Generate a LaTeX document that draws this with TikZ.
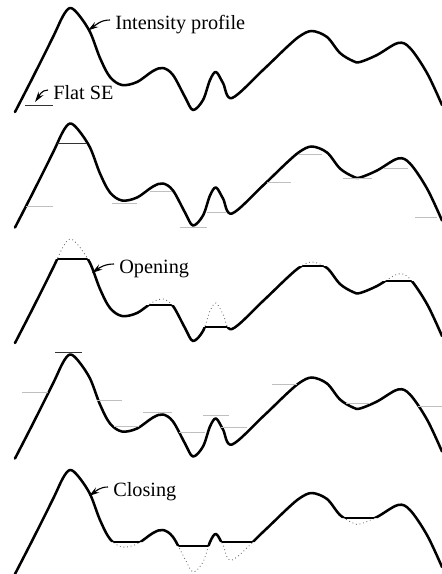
\documentclass[tikz,border=0pt]{standalone}
\usepackage{fontspec}
\setmainfont{Liberation Serif}
\usetikzlibrary{arrows.meta}
\tikzset{
  profile/.style={line width=1.8pt, line join=round, line cap=round},
  original/.style={black!60, line width=0.6pt, dotted},
  semark/.style={gray!50, line width=0.35pt},
  sepeak/.style={black!80, line width=0.5pt},
  pointer/.style={line width=0.8pt, -{Stealth[length=2.6mm, width=1.5mm]}},
  caption/.style={anchor=base west, inner sep=0pt, font=\fontsize{14.4}{17}\selectfont}
}
\newcommand{\profilepath}{plot[smooth, tension=0.55] coordinates {
  (15,112) (33,77) (53,37) (63,16) (70,8) (78,14) (90,32) (100,58) (110,77)
  (122,85) (137,82) (153,71) (163,68) (173,75) (185,97) (193,110) (203,100)
  (210,80) (216,72) (223,83) (232,98) (263,70) (287,47) (300,36) (312,31)
  (327,37) (340,53) (353,61) (360,62) (377,55) (398,43) (410,48) (427,73)
  (442,105)}}

\begin{document}
\begin{tikzpicture}[x=0.025cm, y=-0.025cm]
  \useasboundingbox (0,0) rectangle (442,574);

  % intensity profile and the flat SE
  \draw[profile] \profilepath;
  \draw[sepeak] (25,105) -- (53,105);
  \node[caption] (iplabel) at (115,29) {Intensity profile};
  \node[caption] (fslabel) at (53,99) {Flat SE};
  \coordinate (iptip) at (88,30.5);
  \coordinate (fstip) at (35,102);
  \draw[pointer] ([shift={(-5,-9)}]iplabel.base west) to[out=180, in=35] (iptip);
  \draw[pointer] ([shift={(-5,-9)}]fslabel.base west) to[out=180, in=55] (fstip);

  % SE pushed up from below
  \begin{scope}[shift={(0,115.5)}]
    \draw[profile] \profilepath;
    \draw[sepeak] (57,28) -- (86,28);
    \draw[semark] (26,90.5) -- (53,90.5) (112,87.5) -- (137,87.5)
      (150,75.5) -- (172,75.5) (180,111.5) -- (207,111.5) (207,97) -- (227,97)
      (267,67) -- (291,67) (298,38.5) -- (322,38.5) (343,63) -- (372,63)
      (384,53) -- (408,53) (415,101.5) -- (437,101.5);
  \end{scope}

  % opening
  \begin{scope}[shift={(0,231)}]
    \draw[original] \profilepath;
    \begin{scope}
      \clip (0,130) -- (0,-20) -- (48,-20) -- (48,28) -- (95,28) -- (95,-20)
        -- (140,-20) -- (140,74) -- (180,74) -- (180,-20) -- (198,-20)
        -- (198,96) -- (233,96) -- (233,-20) -- (285,-20) -- (285,35)
        -- (335,35) -- (335,-20) -- (375,-20) -- (375,50) -- (420,50)
        -- (420,-20) -- (442,-20) -- (442,130) -- cycle;
      \draw[profile] \profilepath;
    \end{scope}
    \begin{scope}
      \clip \profilepath -- (442,130) -- (15,130) -- cycle;
      \draw[profile] (48,28) -- (95,28) (140,74) -- (180,74) (198,96) -- (233,96)
        (285,35) -- (335,35) (375,50) -- (420,50);
    \end{scope}
    \node[caption] (oplabel) at (119,42) {Opening};
    \coordinate (optip) at (92,42);
    \draw[pointer] ([shift={(-5,-9)}]oplabel.base west) to[out=180, in=35] (optip);
  \end{scope}

  % SE pushed down from above
  \begin{scope}[shift={(0,346.5)}]
    \draw[profile] \profilepath;
    \draw[sepeak] (55,6) -- (82,6);
    \draw[semark] (22,45.5) -- (48,45.5) (97,53.5) -- (122,53.5)
      (114,79.5) -- (139,79.5) (143,65.5) -- (172,65.5) (179,85.5) -- (205,85.5)
      (203,69) -- (229,69) (221,80.5) -- (247,80.5) (272,37.5) -- (297,37.5)
      (346,56.5) -- (370,56.5) (418,59.5) -- (442,59.5);
  \end{scope}

  % closing
  \begin{scope}[shift={(0,462)}]
    \draw[original] \profilepath;
    \begin{scope}
      \clip (0,-20) -- (442,-20) -- (442,130) -- (385,130) -- (385,56)
        -- (335,56) -- (335,130) -- (258,130) -- (258,80) -- (218,80)
        -- (218,130) -- (212,130) -- (212,84) -- (170,84) -- (170,130)
        -- (147,130) -- (147,80) -- (100,80) -- (100,130) -- (0,130) -- cycle;
      \draw[profile] \profilepath;
    \end{scope}
    \begin{scope}
      \clip \profilepath -- (442,-20) -- (15,-20) -- cycle;
      \draw[profile] (100,80) -- (147,80) (170,84) -- (212,84) (218,80) -- (258,80)
        (335,56) -- (385,56);
    \end{scope}
    \node[caption] (cllabel) at (113,34) {Closing};
    \coordinate (cltip) at (89,34);
    \draw[pointer] ([shift={(-5,-9)}]cllabel.base west) to[out=180, in=35] (cltip);
  \end{scope}
\end{tikzpicture}
\end{document}
